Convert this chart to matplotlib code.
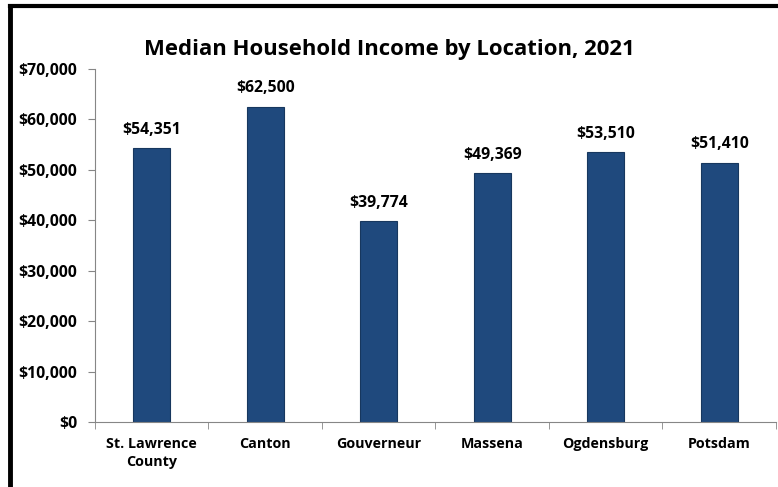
import matplotlib.pyplot as plt
from matplotlib.ticker import FuncFormatter, FixedLocator
import numpy as np

locations = ["St. Lawrence\nCounty", "Canton", "Gouverneur", "Massena", "Ogdensburg", "Potsdam"]
incomes = [54351, 62500, 39774, 49369, 53510, 51410]

plt.rcParams['font.family'] = ['Open Sans', 'DejaVu Sans']

fig = plt.figure(figsize=(7.78, 4.87), dpi=100)
ax = fig.add_axes([0.1221, 0.1335, 0.8753, 0.7248])

x = np.arange(len(locations))
ax.bar(x, incomes, width=0.33, color="#1F497D", edgecolor="#17375E", linewidth=0.8)

for xi, v in zip(x, incomes):
    ax.annotate(f"${v:,}", (xi, v), xytext=(0, 7.5), textcoords="offset points",
                ha="center", va="bottom", fontsize=11.3, fontweight="bold")

ax.set_xlim(-0.5, len(locations) - 0.5)
ax.set_ylim(0, 70000)
ax.set_yticks(range(0, 70001, 10000))
ax.yaxis.set_major_formatter(FuncFormatter(lambda v, p: f"${int(v):,}"))

# categories labeled at centers, tick marks at the boundaries
ax.set_xticks(x)
ax.set_xticklabels(locations, fontsize=10.3, fontweight="bold", linespacing=1.3)
ax.tick_params(axis="x", length=0, pad=11)
ax.xaxis.set_minor_locator(FixedLocator(np.arange(-0.5, len(locations), 1.0)))
ax.tick_params(axis="x", which="minor", length=5, color="#868686")
ax.tick_params(axis="y", length=5, color="#868686", pad=8)
for lbl in ax.get_yticklabels():
    lbl.set_fontweight("bold")
    lbl.set_fontsize(11.3)

for side in ["top", "right"]:
    ax.spines[side].set_visible(False)
for side in ["left", "bottom"]:
    ax.spines[side].set_color("#868686")

fig.text(0.5, 0.898, "Median Household Income by Location, 2021", ha="center", va="center",
         fontsize=15.9, fontweight="bold")

# frame around chart area (top and left visible)
fig.add_artist(plt.Line2D([0.0125, 1.0], [0.9877, 0.9877], color="black", linewidth=3,
                          transform=fig.transFigure))
fig.add_artist(plt.Line2D([0.0128, 0.0128], [0.0, 0.9877], color="black", linewidth=3.5,
                          transform=fig.transFigure))

fig.savefig("out.png", dpi=100)
